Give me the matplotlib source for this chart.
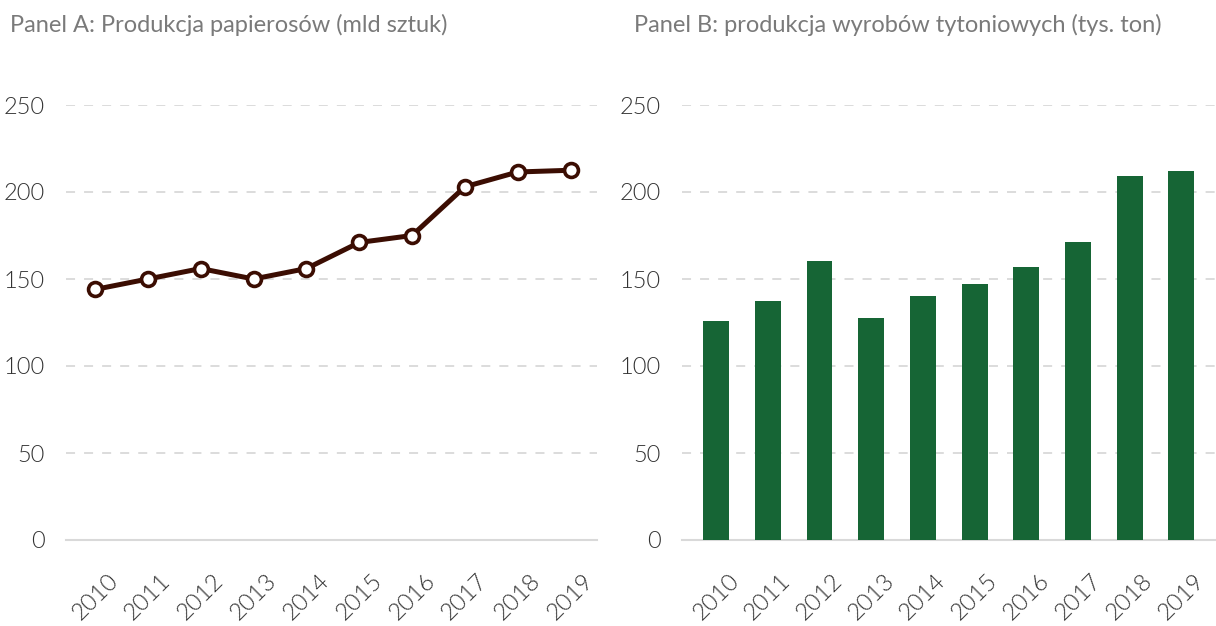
import numpy as np
import matplotlib as mpl
import matplotlib.pyplot as plt
from matplotlib import font_manager

mpl.rcParams['font.family'] = ['Lato', 'DejaVu Sans']

years = ['2010', '2011', '2012', '2013', '2014', '2015', '2016', '2017', '2018', '2019']
cigarettes = [144, 150, 156, 150, 156, 171, 175, 203, 211.5, 212.5]
tobacco = [126, 137.5, 160.5, 127.5, 140, 147, 157, 171.5, 209, 212]

title_a = 'Panel A: Produkcja papierosów (mld sztuk)'
title_b = 'Panel B: produkcja wyrobów tytoniowych (tys. ton)'

line_col = '#3b0d02'
bar_col = '#166535'
grid_col = '#d9d9d9'
tick_col = '#333333'
title_col = '#7a7a7a'

# try to find Lato Light for the tick labels
light = None
for f in font_manager.findSystemFonts():
    name = f.split('/')[-1].lower()
    if name.startswith('lato-light') and 'italic' not in name:
        light = font_manager.FontProperties(fname=f)
        break
if light is None:
    light = font_manager.FontProperties(family='Lato')

fig = plt.figure(figsize=(12.16, 6.26), dpi=100)
ax1 = fig.add_axes([66/1216, 1-540/626, (597-66)/1216, 435/626])
ax2 = fig.add_axes([682/1216, 1-540/626, (1216-682)/1216, 435/626])

x = np.arange(len(years))

ax1.plot(x, cigarettes, color=line_col, lw=3.6, marker='o', ms=10,
         mfc='white', mec=line_col, mew=2.6, zorder=3)
ax1.set_xlim(-0.55, 9.5)

ax2.bar(x, tobacco, width=0.5, color=bar_col, zorder=3)
ax2.set_xlim(-0.66, 9.67)

for ax in (ax1, ax2):
    ax.set_ylim(0, 250)
    ax.set_yticks([0, 50, 100, 150, 200, 250])
    ax.grid(axis='y', color=grid_col, ls=(0, (5, 5)), lw=1.3, zorder=0)
    ax.set_xticks(x)
    ax.set_xticklabels(years, rotation=45, ha='center')
    for lab in ax.get_xticklabels():
        lab.set_fontproperties(light)
        lab.set_fontsize(17)
        lab.set_color(tick_col)
    for lab in ax.get_yticklabels():
        lab.set_fontproperties(light)
        lab.set_fontsize(17)
        lab.set_color(tick_col)
    ax.tick_params(axis='both', length=0)
    ax.tick_params(axis='y', pad=15)
    ax.tick_params(axis='x', pad=22)
    for s in ('top', 'right', 'left'):
        ax.spines[s].set_visible(False)
    ax.spines['bottom'].set_color(grid_col)
    ax.spines['bottom'].set_linewidth(1.5)
    ax.set_axisbelow(True)

fig.text(10/1216, 1-25/626, title_a, fontsize=17, color=title_col, va='center', ha='left')
fig.text(634/1216, 1-25/626, title_b, fontsize=17, color=title_col, va='center', ha='left')

fig.savefig('out.png', dpi=100)
